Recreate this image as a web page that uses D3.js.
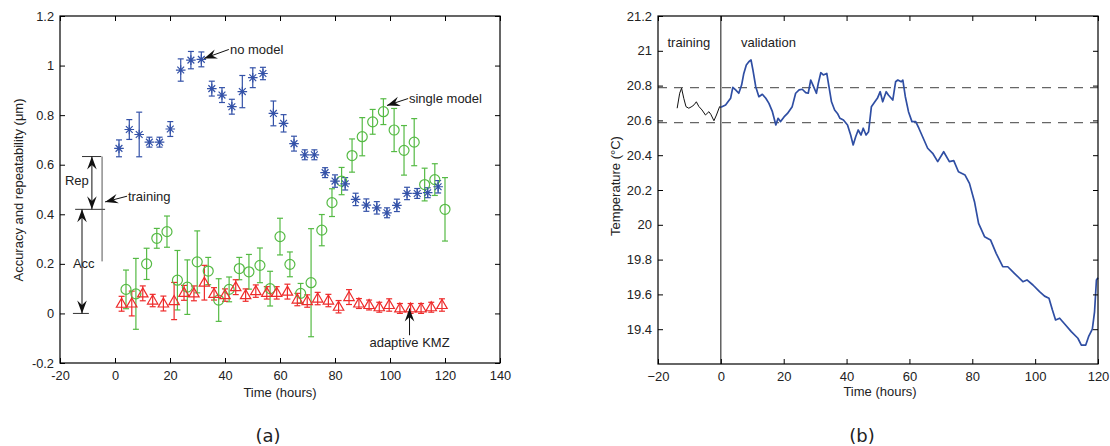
<!DOCTYPE html>
<html>
<head>
<meta charset="utf-8">
<script src="https://cdn.jsdelivr.net/npm/d3@7"></script>
<style>
  body { margin: 0; background: #fff; }
  svg text { font-family: "Liberation Sans", Arial, sans-serif; fill: #222; }
</style>
</head>
<body>
<svg id="fig" width="1110" height="446"></svg>
<script>
// ---- panel (a) data ----
const noModelT = [1.45,5.2,8.8,12.5,16.2,20.1,23.9,27.6,31.4,35.2,38.9,42.5,46.3,50.1,53.8,57.6,61.3,65.1,69,72.5,76.4,80,83.7,87.5,91.4,95.2,98.9,102.5,106.2,109.9,113.7,117.5]
const noModelV = [0.666,0.742,0.722,0.691,0.691,0.744,0.982,1.022,1.025,0.907,0.881,0.834,0.895,0.951,0.968,0.807,0.767,0.685,0.64,0.64,0.568,0.534,0.523,0.46,0.437,0.426,0.406,0.436,0.484,0.484,0.487,0.511]
const noModelE = [0.034,0.04,0.09,0.02,0.02,0.03,0.045,0.035,0.03,0.03,0.03,0.03,0.065,0.04,0.025,0.05,0.035,0.03,0.02,0.02,0.02,0.025,0.025,0.025,0.025,0.025,0.02,0.025,0.025,0.02,0.02,0.025]

const singleT = [4,7.6,11.5,15.2,18.9,22.7,26.3,29.9,33.9,37.7,41.5,45.2,48.7,52.7,56.4,60,63.6,67.5,71.3,75.2,78.9,82.4,86.2,89.9,93.7,97.6,101.5,105.1,108.8,112.6,116.3,120]
const singleV = [0.097,0.079,0.2,0.303,0.33,0.134,0.106,0.208,0.171,0.054,0.097,0.181,0.168,0.194,0.1,0.31,0.198,0.081,0.124,0.336,0.447,0.534,0.637,0.713,0.773,0.814,0.74,0.658,0.691,0.52,0.54,0.42]
const singleE = [0.078,0.143,0.063,0.04,0.063,0.12,0.11,0.125,0.055,0.086,0.05,0.045,0.07,0.07,0.07,0.074,0.05,0.04,0.218,0.063,0.056,0.055,0.067,0.077,0.05,0.052,0.087,0.1,0.095,0.066,0.064,0.128]

const kmzT = [2.4,6.1,10.1,13.7,17.6,21.5,25.1,28.7,32.5,36,40,43.9,47.5,51.2,55.2,58.8,62.7,66.3,69.9,73.7,77.6,81.3,85.1,88.7,92.4,96.1,99.7,103.6,107.5,111.3,115,118.9]
const kmzV = [0.039,0.04,0.081,0.052,0.04,0.05,0.083,0.081,0.124,0.079,0.074,0.106,0.074,0.09,0.083,0.083,0.088,0.056,0.05,0.06,0.052,0.027,0.066,0.04,0.034,0.025,0.034,0.02,0.02,0.02,0.025,0.034]
const kmzE = [0.03,0.05,0.03,0.025,0.03,0.075,0.03,0.03,0.07,0.025,0.025,0.03,0.025,0.025,0.025,0.025,0.03,0.025,0.025,0.025,0.025,0.025,0.03,0.02,0.02,0.02,0.025,0.02,0.02,0.02,0.02,0.025]

const xTicksA = [-20,0,20,40,60,80,100,120,140]
const xLabelsA = ['-20','0','20','40','60','80','100','120','140']
const yTicksA = [-0.2,0,0.2,0.4,0.6,0.8,1,1.2]
const yLabelsA = ['-0.2','0','0.2','0.4','0.6','0.8','1','1.2']

// ---- panel (b) data ----
const trainT = [-13.9,-13.1,-12.5,-11.8,-11.1,-10.2,-9.2,-8.5,-7.8,-7.0,-6.0,-4.9,-3.8,-3.2,-2.2,-1.4,-0.4,0]
const trainTemp = [20.67,20.756,20.785,20.727,20.679,20.67,20.68,20.69,20.707,20.68,20.66,20.631,20.65,20.635,20.598,20.631,20.679,20.675]

const valT = [0,1.5,3.1,3.8,4.7,5.7,6.6,7.3,8.1,8.9,9.6,10.2,11.1,12.1,13.2,14.3,15.3,16.4,17.5,18.2,19.0,20.1,21.2,22.7,23.8,24.9,25.9,27.0,27.8,28.6,29.3,30.4,31.0,31.8,32.6,33.7,34.4,35.2,36.2,37.1,37.9,39.0,40.3,41.3,42.1,42.9,43.7,44.6,45.3,46.2,47.0,47.9,49.0,49.8,50.7,51.5,52.6,53.3,54.7,55.6,56.3,57.4,57.9,58.7,59.7,60.8,62.0,63.0,63.7,65.8,67.4,69.0,70.9,72.7,74.1,75.6,77.7,79.1,80.7,82.0,83.9,85.8,87.6,89.7,91.3,93.4,96.1,97.4,99.3,101.4,103.0,104.4,105.5,106.5,107.8,109.4,111.5,113.6,114.7,116.1,117.0,118.2,118.9,119.5,120]
const valTemp = [20.675,20.688,20.727,20.79,20.775,20.756,20.803,20.87,20.918,20.937,20.947,20.89,20.794,20.736,20.75,20.727,20.698,20.65,20.574,20.612,20.593,20.62,20.64,20.679,20.756,20.775,20.779,20.76,20.756,20.832,20.803,20.756,20.813,20.874,20.861,20.87,20.794,20.707,20.66,20.64,20.612,20.602,20.574,20.516,20.459,20.506,20.545,20.516,20.555,20.516,20.535,20.679,20.707,20.727,20.765,20.707,20.765,20.746,20.717,20.822,20.832,20.822,20.832,20.736,20.65,20.593,20.593,20.555,20.526,20.44,20.411,20.363,20.42,20.363,20.369,20.305,20.286,20.238,20.133,20.008,19.932,19.913,19.836,19.759,19.759,19.721,19.673,19.683,19.654,19.616,19.59,19.578,19.51,19.453,19.463,19.43,19.386,19.348,19.309,19.309,19.357,19.4,19.5,19.683,19.696]
const bandTemps = [20.788, 20.587]

const xTicksB = [-20,0,20,40,60,80,100,120]
const xLabelsB = ['\u221220','0','20','40','60','80','100','120']
const yTicksB = [19.4,19.6,19.8,20,20.2,20.4,20.6,20.8,21,21.2]
const yLabelsB = ['19.4','19.6','19.8','20','20.2','20.4','20.6','20.8','21','21.2']

const blue = '#3452a8', green = '#55ba44', red = '#ee2b2b', lineBlue = '#2f4ea3'

const svg = d3.select('#fig')

const xA = d3.scaleLinear().domain([-20, 140]).range([60, 500])
const yA = d3.scaleLinear().domain([-0.2, 1.2]).range([363, 16])
const xB = d3.scaleLinear().domain([-20, 120]).range([658, 1098])
const yB = d3.scaleLinear().domain([19.2, 21.2]).range([364, 16])

// matlab style box with inward ticks
function frame(x, y, xt, xl, yt, yl, fs) {
  const g = svg.append('g')
  const [x0, x1] = x.range(), [y0, y1] = y.range()
  g.append('rect').attr('x', x0).attr('y', y1).attr('width', x1 - x0).attr('height', y0 - y1)
    .attr('fill', 'none').attr('stroke', '#000').attr('stroke-width', 1.2)
  const fmtX = d => xl[xt.indexOf(d)], fmtY = d => yl[yt.indexOf(d)]
  g.append('g').attr('transform', `translate(0,${y0})`)
    .call(d3.axisBottom(x).tickValues(xt).tickFormat(fmtX).tickSizeInner(-5).tickSizeOuter(0).tickPadding(8))
  g.append('g').attr('transform', `translate(0,${y1})`)
    .call(d3.axisTop(x).tickValues(xt).tickFormat('').tickSizeInner(-5).tickSizeOuter(0))
  g.append('g').attr('transform', `translate(${x0},0)`)
    .call(d3.axisLeft(y).tickValues(yt).tickFormat(fmtY).tickSizeInner(-5).tickSizeOuter(0).tickPadding(6))
  g.append('g').attr('transform', `translate(${x1},0)`)
    .call(d3.axisRight(y).tickValues(yt).tickFormat('').tickSizeInner(-5).tickSizeOuter(0))
  g.selectAll('.domain').remove()
  g.selectAll('.tick line').attr('stroke', '#000')
  g.selectAll('.tick text').style('font-size', fs + 'px').attr('fill', '#222')
    .style('font-family', '"Liberation Sans", Arial, sans-serif')
  return g
}

function arrowHead(g, x1, y1, x2, y2) {
  const a = Math.atan2(y2 - y1, x2 - x1), L = 13, W = 4.8
  const c = Math.cos(a), s = Math.sin(a)
  const pts = [
    [x2, y2],
    [x2 - L * c + W * s, y2 - L * s - W * c],
    [x2 - 0.65 * L * c, y2 - 0.65 * L * s],
    [x2 - L * c - W * s, y2 - L * s + W * c]
  ]
  g.append('polygon').attr('points', pts.map(p => p.join(',')).join(' ')).attr('fill', '#111')
}
function arrow(g, x1, y1, x2, y2, both) {
  g.append('line').attr('x1', x1).attr('y1', y1).attr('x2', x2).attr('y2', y2)
    .attr('stroke', '#111').attr('stroke-width', 1)
  arrowHead(g, x1, y1, x2, y2)
  if (both) arrowHead(g, x2, y2, x1, y1)
}

// ================= panel (a) =================
const ga = svg.append('g')

function errorBars(ts, vs, es, col) {
  const g = ga.append('g').attr('stroke', col).attr('stroke-width', 1.2)
  ts.forEach((t, i) => {
    const cx = xA(t), ya = yA(vs[i] + es[i]), yb = yA(vs[i] - es[i])
    g.append('line').attr('x1', cx).attr('x2', cx).attr('y1', ya).attr('y2', yb)
    g.append('line').attr('x1', cx - 3).attr('x2', cx + 3).attr('y1', ya).attr('y2', ya)
    g.append('line').attr('x1', cx - 3).attr('x2', cx + 3).attr('y1', yb).attr('y2', yb)
  })
}

errorBars(singleT, singleV, singleE, green)
errorBars(kmzT, kmzV, kmzE, red)
errorBars(noModelT, noModelV, noModelE, blue)

// circles
ga.append('g').selectAll('circle').data(singleT).join('circle')
  .attr('cx', d => xA(d)).attr('cy', (d, i) => yA(singleV[i])).attr('r', 5)
  .attr('fill', 'none').attr('stroke', green).attr('stroke-width', 1.2)

// triangles
ga.append('g').selectAll('path').data(kmzT).join('path')
  .attr('transform', (d, i) => `translate(${xA(d)},${yA(kmzV[i])})`)
  .attr('d', 'M0,-5.5L5.2,3.5L-5.2,3.5Z')
  .attr('fill', 'none').attr('stroke', red).attr('stroke-width', 1.2)

// asterisks
ga.append('g').selectAll('path').data(noModelT).join('path')
  .attr('transform', (d, i) => `translate(${xA(d)},${yA(noModelV[i])})`)
  .attr('d', 'M-4.8,0H4.8M0,-4.8V4.8M-3.4,-3.4L3.4,3.4M-3.4,3.4L3.4,-3.4')
  .attr('fill', 'none').attr('stroke', blue).attr('stroke-width', 1.2)

frame(xA, yA, xTicksA, xLabelsA, yTicksA, yLabelsA, 12.8)

// annotations
const ann = ga.append('g').style('font-size', '13px')
ann.append('text').attr('x', xA(41.8)).attr('y', yA(1.065)).attr('dy', '0.35em').text('no model')
arrow(ann, xA(41.4), yA(1.065), xA(32.4), yA(1.029))
ann.append('text').attr('x', xA(106.9)).attr('y', yA(0.867)).attr('dy', '0.35em').text('single model')
arrow(ann, xA(106.6), yA(0.867), xA(98.9), yA(0.839))
ann.append('text').attr('x', xA(107.1)).attr('y', yA(-0.117)).attr('dy', '0.35em')
  .attr('text-anchor', 'middle').text('adaptive KMZ')
arrow(ann, xA(107.1), yA(-0.088), xA(107.1), yA(0.02))

// Rep / Acc bracket
const hl = (xa, xb, v) => ann.append('line').attr('x1', xA(xa)).attr('x2', xA(xb))
  .attr('y1', yA(v)).attr('y2', yA(v)).attr('stroke', '#333').attr('stroke-width', 1)
hl(-12, -5, 0.633)
hl(-14.5, -3.6, 0.42)
hl(-15.3, -9.5, 0)
ann.append('line').attr('x1', xA(-4.7)).attr('x2', xA(-4.7)).attr('y1', yA(0.633)).attr('y2', yA(0.21))
  .attr('stroke', '#555').attr('stroke-width', 1)
arrow(ann, xA(-8.4), yA(0.633), xA(-8.4), yA(0.42), true)
arrow(ann, xA(-12), yA(0.42), xA(-12), yA(0), true)
ann.append('text').attr('x', xA(-18.2)).attr('y', yA(0.535)).attr('dy', '0.35em').text('Rep')
ann.append('text').attr('x', xA(-15.3)).attr('y', yA(0.2)).attr('dy', '0.35em').text('Acc')
ann.append('text').attr('x', xA(4.7)).attr('y', yA(0.473)).attr('dy', '0.35em').text('training')
arrow(ann, xA(4.4), yA(0.473), xA(-3.6), yA(0.45))

svg.append('text').attr('x', 280).attr('y', 392).attr('dy', '0.35em').attr('text-anchor', 'middle')
  .style('font-size', '13px').text('Time (hours)')
svg.append('text').attr('transform', 'translate(18,190) rotate(-90)').attr('dy', '0.35em')
  .attr('text-anchor', 'middle').style('font-size', '13px').text('Accuracy and repeatability (\u03bcm)')
svg.append('text').attr('x', 268).attr('y', 436).attr('dy', '0.35em').attr('text-anchor', 'middle')
  .style('font-family', '"DejaVu Sans", sans-serif').style('font-size', '18px').attr('fill', '#333').text('(a)')

// ================= panel (b) =================
const gb = svg.append('g')

gb.selectAll('line.band').data(bandTemps).join('line').attr('class', 'band')
  .attr('x1', xB(-20)).attr('x2', xB(120)).attr('y1', d => yB(d)).attr('y2', d => yB(d))
  .attr('stroke', '#666').attr('stroke-width', 1.2).attr('stroke-dasharray', '9,7')

gb.append('line').attr('x1', xB(0)).attr('x2', xB(0)).attr('y1', yB(21.2)).attr('y2', yB(19.2))
  .attr('stroke', '#111').attr('stroke-width', 1)

const lineB = d3.line().x(d => xB(d[0])).y(d => yB(d[1])).curve(d3.curveLinear)
gb.append('path').datum(d3.zip(trainT, trainTemp)).attr('d', lineB)
  .attr('fill', 'none').attr('stroke', '#111').attr('stroke-width', 1)
gb.append('path').datum(d3.zip(valT, valTemp)).attr('d', lineB)
  .attr('fill', 'none').attr('stroke', lineBlue).attr('stroke-width', 1.7).attr('stroke-linejoin', 'round')

frame(xB, yB, xTicksB, xLabelsB, yTicksB, yLabelsB, 13)

gb.append('text').attr('x', xB(-10.2)).attr('y', yB(21.05)).attr('dy', '0.35em').attr('text-anchor', 'middle')
  .style('font-size', '13px').text('training')
gb.append('text').attr('x', xB(6.4)).attr('y', yB(21.05)).attr('dy', '0.35em')
  .style('font-size', '13px').text('validation')

svg.append('text').attr('x', 880).attr('y', 391).attr('dy', '0.35em').attr('text-anchor', 'middle')
  .style('font-size', '13px').text('Time (hours)')
svg.append('text').attr('transform', 'translate(615,186) rotate(-90)').attr('dy', '0.35em')
  .attr('text-anchor', 'middle').style('font-size', '13px').text('Temperature (\u00b0C)')
svg.append('text').attr('x', 862).attr('y', 436).attr('dy', '0.35em').attr('text-anchor', 'middle')
  .style('font-family', '"DejaVu Sans", sans-serif').style('font-size', '18px').attr('fill', '#333').text('(b)')
</script>
</body>
</html>
